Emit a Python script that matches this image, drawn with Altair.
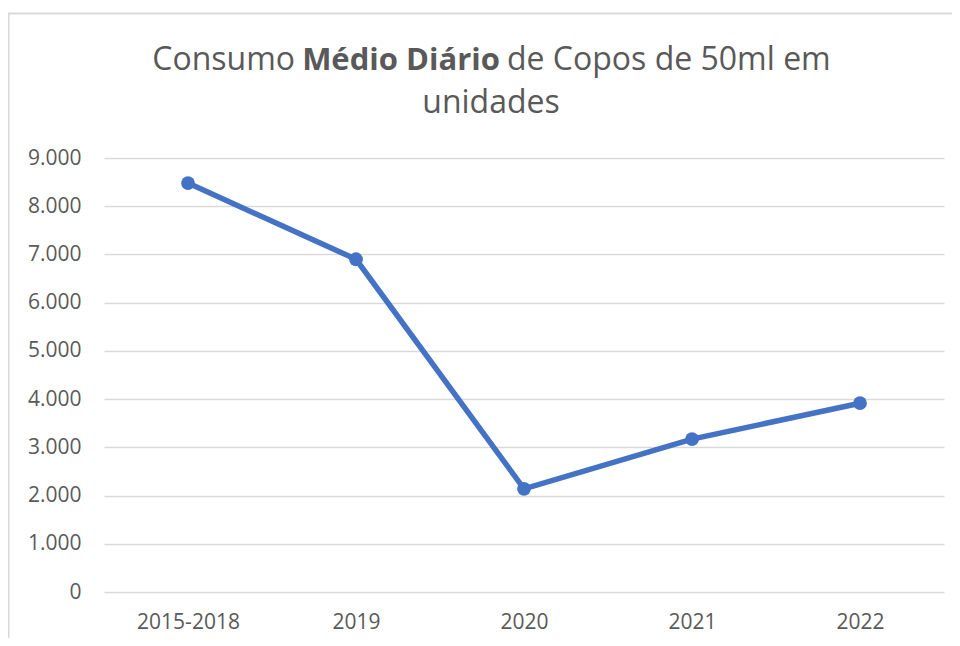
import altair as alt
import pandas as pd

# ---- data ----
categories = ["2015-2018", "2019", "2020", "2021", "2022"]
values = [8480, 6900, 2140, 3170, 3915]
y_ticks = [0, 1000, 2000, 3000, 4000, 5000, 6000, 7000, 8000, 9000]
title_part1 = ["Consumo"]
title_bold = ["Médio Diário"]
title_part2 = ["de Copos de 50ml em"]
title_line2 = ["unidades"]

df = pd.DataFrame({"periodo": categories, "valor": values})

BLUE = "#4472C4"
GREY_TXT = "#595959"
GRID = "#d9d9d9"
FONT = "Open Sans"

x_enc = alt.X("periodo:N", sort=categories,
              scale=alt.Scale(type="point", padding=0.5),
              axis=alt.Axis(title=None, labelAngle=0, domain=False, ticks=False,
                            grid=False, labelPadding=19, labelFontSize=21,
                            labelColor=GREY_TXT, labelFont=FONT))
y_enc = alt.Y("valor:Q",
              scale=alt.Scale(domain=[0, 9000], nice=False),
              axis=alt.Axis(title=None, values=y_ticks, domain=False, ticks=False,
                            gridColor=GRID, gridWidth=1.5, labelPadding=23,
                            labelFontSize=21, labelColor=GREY_TXT, labelFont=FONT,
                            labelExpr="replace(format(datum.value, ','), ',', '.')"))

line = alt.Chart(df).mark_line(color=BLUE, strokeWidth=5.5).encode(x=x_enc, y=y_enc)
pts = alt.Chart(df).mark_point(color=BLUE, filled=True, opacity=1, size=190).encode(
    x=alt.X("periodo:N", sort=categories), y="valor:Q")


def txt(lst, x, y, align, weight="normal", size=32):
    return alt.Chart(pd.DataFrame({"t": lst})).mark_text(
        align=align, baseline="alphabetic", font=FONT, fontSize=size,
        fontWeight=weight, color=GREY_TXT
    ).encode(x=alt.value(x), y=alt.value(y), text="t:N")


t1 = txt(title_part1, 191, -88, "right")
t2 = txt(title_bold, 297, -88, "center", "bold", 31)
t3 = txt(title_part2, 403, -88, "left")
t4 = txt(title_line2, 387, -45, "center")

border_top = alt.Chart(pd.DataFrame({"a": [0]})).mark_rule(color=GRID, strokeWidth=2).encode(
    x=alt.value(-96), x2=alt.value(860), y=alt.value(-144.5))
border_left = alt.Chart(pd.DataFrame({"a": [0]})).mark_rule(color=GRID, strokeWidth=2).encode(
    x=alt.value(-95.5), y=alt.value(-144.5), y2=alt.value(500))

chart = alt.layer(border_top, border_left, line, pts, t1, t2, t3, t4).properties(
    width=840, height=434,
    autosize=alt.AutoSizeParams(type="none"),
    padding={"left": 96, "top": 150, "right": 8, "bottom": 46},
    background="white",
).configure_view(stroke=None)

chart.save("out.html", embed_options={"renderer": "svg", "actions": False})
